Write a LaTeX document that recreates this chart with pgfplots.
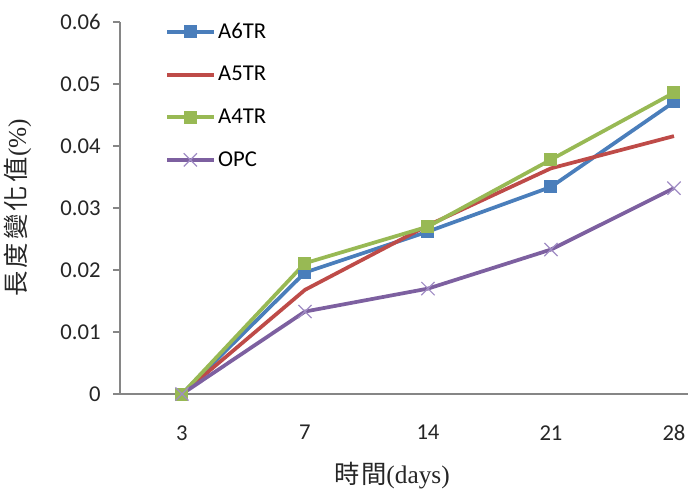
\documentclass[border=0pt]{standalone}
\usepackage{fontspec}
\usepackage{pgfplots}
\pgfplotsset{compat=1.18}
\setmainfont{Carlito}
\newfontfamily\cjk{Noto Sans CJK TC}
\newfontfamily\tnr{Liberation Serif}
\definecolor{cblue}{HTML}{4A7EBB}
\definecolor{cred}{HTML}{BE4B48}
\definecolor{cgreen}{HTML}{98B954}
\definecolor{cpurple}{HTML}{7D60A0}
\definecolor{cpurplel}{HTML}{A08CC4}
\definecolor{axgray}{HTML}{868686}
\begin{document}
\begin{tikzpicture}
\begin{axis}[
  scale only axis, width=426pt, height=279pt,
  xmin=-0.504, xmax=4.114, ymin=0, ymax=0.06,
  axis lines*=left,
  axis line style={axgray, line width=0.8pt, -},
  xtick={0,1,2,3,4}, xticklabels={3,7,14,21,28},
  major x tick style={draw=none},
  ytick={0,0.01,0.02,0.03,0.04,0.05,0.06},
  yticklabels={0,0.01,0.02,0.03,0.04,0.05,0.06},
  scaled y ticks=false,
  tick align=outside,
  major tick length=5pt,
  y tick style={axgray, line width=0.8pt},
  tick label style={font=\fontsize{17}{20}\selectfont, text=black!85},
  xticklabel style={yshift=-15pt},
  yticklabel style={xshift=-6pt},
  /pgf/number format/assume math mode=true,
  ylabel={{\cjk 長\hspace{2.5pt}度\hspace{2.5pt}變\hspace{2.5pt}化\hspace{2.5pt}值}{\tnr (\%)}},
  ylabel style={at={(rel axis cs:-0.18,0.5)}, anchor=center, font=\fontsize{19}{24}\selectfont, text=black!85},
  xlabel={{\cjk 時\hspace{1pt}間}{\tnr (days)}},
  xlabel style={at={(rel axis cs:0.479,-0.218)}, anchor=center, font=\fontsize{19}{22}\selectfont, text=black!85},
  clip=false,
  legend style={draw=none, fill=none, at={(rel axis cs:0.079,1.005)}, anchor=north west,
    font=\fontsize{17}{20}\selectfont, row sep=15.5pt, inner sep=0pt,
    legend cell align=left},
  legend image code/.code={
    \draw[mark repeat=2,mark phase=2,#1] plot coordinates {(0pt,0pt) (17.5pt,0pt) (35pt,0pt)};},
  every axis plot/.append style={line width=2.8pt},
]
\addplot[cblue, mark=square*, mark size=4.5pt, mark options={line width=0pt, fill=cblue}]
  coordinates {(0,0) (1,0.0196) (2,0.0262) (3,0.0334) (4,0.0471)};
\addlegendentry{A6TR}
\addplot[cred]
  coordinates {(0,0) (1,0.0168) (2,0.0272) (3,0.0364) (4,0.0416)};
\addlegendentry{A5TR}
\addplot[cgreen, mark=square*, mark size=4.5pt, mark options={line width=0pt, fill=cgreen}]
  coordinates {(0,0) (1,0.0211) (2,0.0270) (3,0.0378) (4,0.0486)};
\addlegendentry{A4TR}
\addplot[cpurple, mark=x, mark size=7pt, mark options={line width=0.9pt, draw=cpurplel}]
  coordinates {(0,0) (1,0.0133) (2,0.0170) (3,0.0233) (4,0.0332)};
\addlegendentry{OPC}
\coordinate (SW) at (rel axis cs:0,0);
\end{axis}
\pgfresetboundingbox
\path[use as bounding box] ([xshift=-90pt,yshift=-74.25pt]SW) rectangle ([xshift=426pt,yshift=295.5pt]SW);
\end{tikzpicture}
\end{document}
